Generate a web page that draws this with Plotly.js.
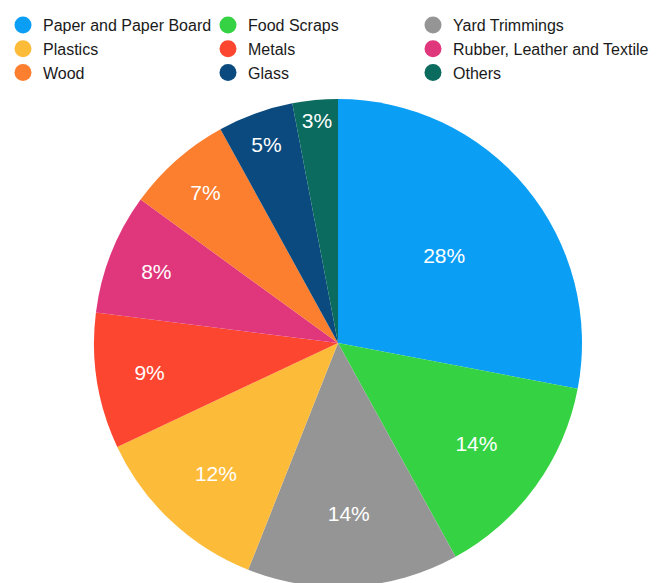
<!DOCTYPE html>
<html>
<head>
<meta charset="utf-8">
<script src="https://cdn.plot.ly/plotly-3.0.1.min.js"></script>
<style>
html,body{margin:0;padding:0;overflow:hidden;background:#fff;}
#chart{width:665px;height:600px;}
</style>
</head>
<body>
<div id="chart"></div>
<script>
var categories = ["Paper and Paper Board","Food Scraps","Yard Trimmings","Plastics","Metals","Rubber, Leather and Textile","Wood","Glass","Others"];
var shares = [28,14,14,12,9,8,7,5,3];
var colors = ["#0A9EF5","#35D343","#959595","#FCBC3A","#FD4630","#E0367C","#FC7E2F","#0B4A7E","#0B6B5E"];

var trace = {
  type: "pie",
  labels: categories,
  values: shares,
  sort: false,
  direction: "clockwise",
  rotation: 0,
  marker: {colors: colors, line: {width: 0}},
  textinfo: "percent",
  textposition: "inside",
  insidetextorientation: "horizontal",
  insidetextfont: {color: "#ffffff", size: 21, family: "Liberation Sans, Arial, sans-serif"},
  hoverinfo: "label+percent",
  domain: {x: [93/665, 583/665], y: [1 - 587/600, 1 - 99/600]}
};

var layout = {
  width: 665,
  height: 600,
  margin: {l: 0, r: 0, t: 0, b: 0},
  paper_bgcolor: "#ffffff",
  font: {family: "Liberation Sans, Arial, sans-serif", color: "#1a1a1a"},
  showlegend: true,
  legend: {
    orientation: "h",
    x: 3/665, xanchor: "left",
    y: 1 - 8/600, yanchor: "top",
    entrywidth: 160,
    entrywidthmode: "pixels",
    font: {size: 16, color: "#1a1a1a"},
    traceorder: "normal",
    bgcolor: "rgba(0,0,0,0)"
  }
};

Plotly.newPlot("chart", [trace], layout, {displayModeBar: false, staticPlot: true}).then(function(gd){
  gd.querySelectorAll(".legendpoints path").forEach(function(p){
    p.setAttribute("d", "M8.5,0A8.5,8.5 0 1,1 -8.5,0A8.5,8.5 0 1,1 8.5,0Z");
    p.style.strokeWidth = "0px";
  });
  gd.querySelectorAll(".legend .scrollbox, .legend").forEach(function(g){
    g.removeAttribute("clip-path");
  });
});
</script>
</body>
</html>
